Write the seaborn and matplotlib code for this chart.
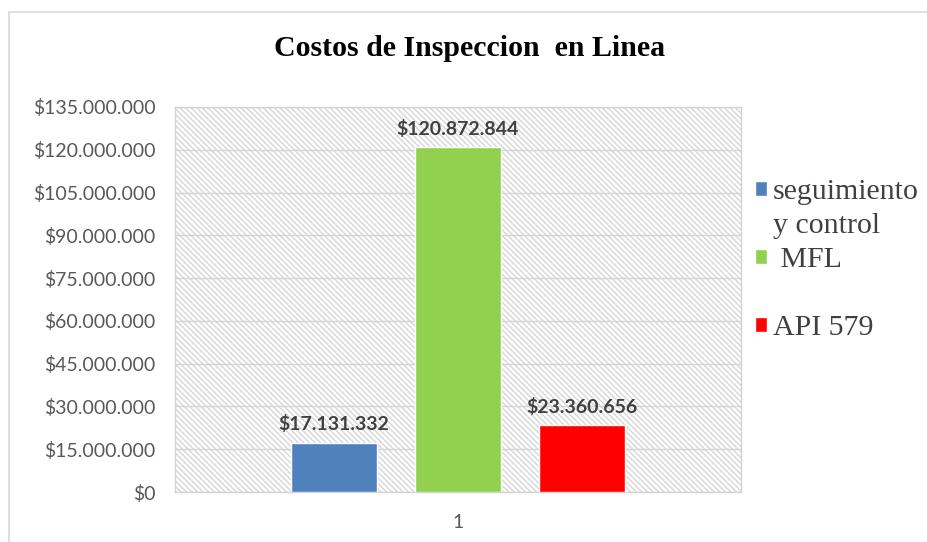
import matplotlib
matplotlib.use("Agg")
import matplotlib.pyplot as plt
from matplotlib.patches import Rectangle
from matplotlib.ticker import FuncFormatter
import seaborn as sns
import pandas as pd

# Data
groups = ["1", "1", "1"]
methods = ["seguimiento y control", "MFL", "API 579"]
costs = [17131332, 120872844, 23360656]
colors = ["#4f81bd", "#92d050", "#ff0000"]
y_ticks = list(range(0, 135000001, 15000000))

df = pd.DataFrame({"grupo": groups, "metodo": methods, "costo": costs})

sns.set_theme(style="white")
plt.rcParams["hatch.color"] = "#d6d6d6"
plt.rcParams["hatch.linewidth"] = 1.0

fig = plt.figure(figsize=(9.27, 5.42), dpi=100)
ax = fig.add_axes([175 / 927, 50 / 542, 566 / 927, 385 / 542])

# hatched plot-area background
bg = Rectangle((0, 0), 1, 1, transform=ax.transAxes, facecolor="white",
               edgecolor="#d6d6d6", hatch="\\\\\\\\\\\\", linewidth=0, zorder=0)
ax.add_patch(bg)

sns.barplot(data=df, x="grupo", y="costo", hue="metodo", palette=colors,
            width=0.657, gap=0.305, saturation=1, ax=ax, zorder=3,
            legend=False)

ax.set_ylim(0, 135000000)
ax.set_xlim(-0.5, 0.5)
ax.set_yticks(y_ticks)
ax.yaxis.set_major_formatter(
    FuncFormatter(lambda v, p: "$" + f"{int(v):,}".replace(",", ".")))
ax.grid(axis="y", color="#d4d4d4", linewidth=1, zorder=1)
ax.set_axisbelow(True)
ax.set_xlabel("")
ax.set_ylabel("")
for s in ax.spines.values():
    s.set_color("#d4d4d4")
    s.set_linewidth(1)
ax.tick_params(axis="y", length=0, pad=14, labelsize=14, labelcolor="#595959")
ax.tick_params(axis="x", length=0, pad=16, labelsize=14, labelcolor="#595959")
for lab in ax.get_yticklabels() + ax.get_xticklabels():
    lab.set_fontfamily("Lato")

# value labels
for cont in ax.containers:
    labels = ["$" + f"{int(v):,}".replace(",", ".") for v in cont.datavalues]
    ax.bar_label(cont, labels=labels, padding=7, fontsize=14,
                 fontweight="bold", color="#404040", family="Lato")

# title
fig.text(470 / 927, 1 - 48 / 542, "Costos de Inspeccion  en Linea",
         ha="center", va="center", fontsize=21.5, fontweight="bold",
         family="Liberation Serif", color="black")

# legend
leg_handles = [
    Rectangle((0, 0), 1, 1, facecolor=colors[0]),
    Rectangle((0, 0), 1, 1, facecolor="none", edgecolor="none"),
    Rectangle((0, 0), 1, 1, facecolor=colors[1]),
    Rectangle((0, 0), 1, 1, facecolor="none", edgecolor="none"),
    Rectangle((0, 0), 1, 1, facecolor=colors[2]),
]
leg_labels = ["seguimiento", "y control", " MFL", " ", "API 579"]
fig.legend(leg_handles, leg_labels, loc="upper left",
           bbox_to_anchor=(755 / 927, 1 - 179 / 542), frameon=False,
           prop={"family": "Liberation Serif", "size": 21.5},
           handlelength=0.4, handleheight=0.4, handletextpad=0.2,
           labelspacing=0.27, borderpad=0, borderaxespad=0,
           labelcolor="#404040")

# outer chart border
fig.patches.append(Rectangle((9 / 927, -0.05), 1.0, 1 - 12 / 542 + 0.05,
                             transform=fig.transFigure, fill=False,
                             edgecolor="#d9d9d9", linewidth=1.2))

fig.savefig("out.png", dpi=100)
